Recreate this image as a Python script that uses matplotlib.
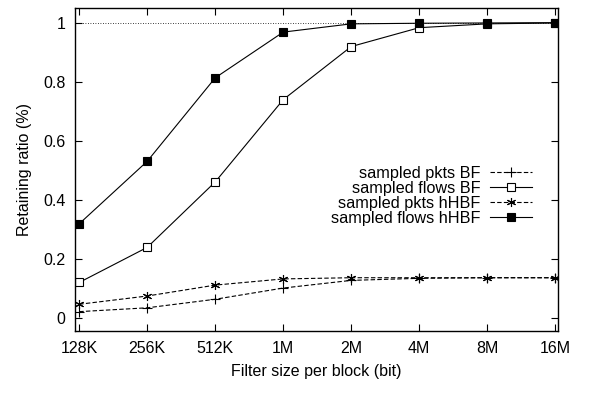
import matplotlib
matplotlib.use("Agg")
import matplotlib.pyplot as plt

plt.rcParams['font.family'] = ['Liberation Sans', 'DejaVu Sans']

sizes = ["128K", "256K", "512K", "1M", "2M", "4M", "8M", "16M"]
pkts_bf = [0.020, 0.033, 0.062, 0.100, 0.126, 0.133, 0.135, 0.135]
flows_bf = [0.119, 0.238, 0.460, 0.739, 0.919, 0.983, 0.996, 0.999]
pkts_hhbf = [0.045, 0.073, 0.110, 0.131, 0.135, 0.135, 0.135, 0.135]
flows_hhbf = [0.318, 0.530, 0.813, 0.968, 0.996, 0.998, 0.999, 1.0]

x = list(range(len(sizes)))

fig = plt.figure(figsize=(5.92, 4.17), dpi=100)
ax = fig.add_axes([0.127, 0.206, 0.816, 0.775])

ax.axhline(1.0, color='black', linestyle=(0, (1, 2)), linewidth=0.6, zorder=1)

ax.plot(x, pkts_bf, color='black', linestyle=(0, (4, 2)), linewidth=0.8,
        marker='+', markersize=6.5, markeredgewidth=0.8, label='sampled pkts BF')
ax.plot(x, flows_bf, color='black', linestyle='-', linewidth=0.8,
        marker='s', markersize=5.5, markerfacecolor='white', markeredgewidth=0.8,
        label='sampled flows BF')
ax.plot(x, pkts_hhbf, color='black', linestyle=(0, (4, 2)), linewidth=0.8,
        marker=(6, 2, 0), markersize=6.5, markeredgewidth=0.8, label='sampled pkts hHBF')
ax.plot(x, flows_hhbf, color='black', linestyle='-', linewidth=0.8,
        marker='s', markersize=5.5, markerfacecolor='black', markeredgewidth=0.8,
        label='sampled flows hHBF')

ax.set_xlim(-0.06, 7.045)
ax.set_ylim(-0.046, 1.05)
ax.set_xticks(x)
ax.set_xticklabels(sizes)
ax.set_yticks([0, 0.2, 0.4, 0.6, 0.8, 1])
ax.set_yticklabels(["0", "0.2", "0.4", "0.6", "0.8", "1"])
ax.tick_params(direction='in', top=True, right=True, length=5, labelsize=11.5, pad=7)
for s in ax.spines.values():
    s.set_linewidth(1.0)

ax.set_xlabel("Filter size per block (bit)", fontsize=11.5, labelpad=6)
ax.set_ylabel("Retaining ratio (%)", fontsize=11.5, labelpad=8)

ax.legend(loc='center right', bbox_to_anchor=(0.96, 0.418), frameon=False,
          markerfirst=False, fontsize=11.7, handlelength=2.6, labelspacing=0.0,
          handletextpad=0.6, borderaxespad=0.0)

plt.savefig("out.png", dpi=100)
